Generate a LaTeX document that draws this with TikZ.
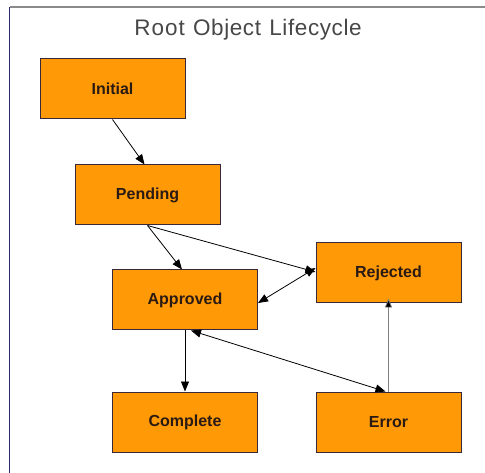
\documentclass[tikz,border=0pt]{standalone}
\usepackage{fontspec}
\setmainfont{Liberation Sans}
\usetikzlibrary{arrows.meta}
\definecolor{boxfill}{HTML}{FF9905}
\definecolor{boxline}{HTML}{3A2838}
\definecolor{txt}{HTML}{2A1A14}
\definecolor{frameL}{HTML}{2A2A70}
\definecolor{frameT}{HTML}{8A8A8A}
\begin{document}
\begin{tikzpicture}[x=1pt,y=-1pt,
  state/.style={draw=boxline,line width=1pt,fill=boxfill,minimum width=145pt,minimum height=60pt,inner sep=0pt,font=\fontsize{16}{16}\selectfont\bfseries,text=txt},
  conn/.style={line width=0.8pt,-{Triangle[length=10pt,width=8pt]}},
  conn2/.style={line width=0.8pt,{Triangle[length=10pt,width=8pt]}-{Triangle[length=10pt,width=8pt]}}]
\useasboundingbox (0,0) rectangle (485,473);
\fill[white] (0,0) rectangle (485,473);
\draw[frameT,line width=1.2pt] (9.5,7) -- (485,7);
\draw[frameL,line width=1.4pt] (9.5,7) -- (9.5,473);
\node[font=\fontsize{22.5}{22.5}\selectfont,text=black!72] (title) at (248,30) {R\kern1pt o\kern1pt o\kern1pt t\kern2pt{} O\kern0.6pt b\kern0.6pt j\kern0.6pt e\kern0.6pt c\kern0.6pt t\kern2pt{} L\kern0.6pt i\kern0.6pt f\kern0.6pt e\kern0.6pt c\kern0.6pt y\kern0.6pt c\kern0.6pt l\kern0.6pt e};
\node[state] (initial) at (112.5,89) {Initial};
\node[state] (pending) at (147.5,195) {Pending};
\node[state] (approved) at (185,300) {Approved};
\node[state] (rejected) at (388.5,273) {Rejected};
\node[state] (complete) at (185,422) {Complete};
\node[state] (error) at (388.5,422) {Error};
\draw[conn] (initial.south) -- ([xshift=-3pt]pending.north);
\draw[conn] (pending.south) -- ([xshift=-3pt]approved.north);
\draw[conn] (pending.south) -- ([yshift=1pt]rejected.west);
\draw[conn2] ([yshift=-3pt]approved.east) -- ([yshift=5pt]rejected.west);
\draw[conn] (approved.south) -- (complete.north);
\draw[conn2] ([xshift=6pt]approved.south) -- ([xshift=-3pt]error.north);
\draw[draw=black!50,line width=0.7pt,-{Triangle[length=9pt,width=7pt,fill=black]}] (error.north) -- ([yshift=5pt]rejected.south);
\end{tikzpicture}
\end{document}
